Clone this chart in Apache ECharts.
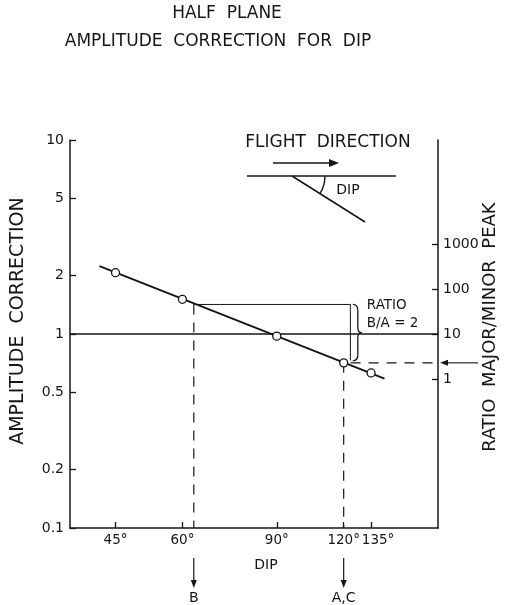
<!DOCTYPE html>
<html>
<head>
<meta charset="utf-8">
<script src="https://cdn.jsdelivr.net/npm/echarts@6/dist/echarts.min.js"></script>
<style>
  html, body { margin: 0; padding: 0; background: #ffffff; }
  #chart { width: 510px; height: 605px; }
</style>
</head>
<body>
<div id="chart"></div>
<script>
// Axis ticks
const dipTicks = [45, 60, 90, 120, 135];
const amplitudeTicks = [0.1, 0.2, 0.5, 1, 2, 5, 10];
const ratioTicks = [1, 10, 100, 1000];

// Measured amplitude corrections (open circles)
const pointDips = [45, 60, 90, 120, 135];
const pointAmps = [2.07, 1.51, 0.975, 0.71, 0.63];

// Ends of the fitted straight line (log-log)
const fitDips = [42, 143];
const fitAmps = [2.24, 0.588];

// Worked example: dips of B and A (=C), ratio B/A
const ratioBA = 2;
const dipA = 120;
const ampA = 0.71;
const dipB = 63;
const ampB = ratioBA * ampA;
const bracketDip = 124;

// Axis ranges
const dipRange = [37, 180];
const ampRange = [0.1, 10];
const ratioRange = [4.9e-4, 2.04e5];

const FONT = 'DejaVu Sans';
const INK = '#151515';

const chart = echarts.init(document.getElementById('chart'), null, { renderer: 'canvas' });

const zip = (a, b) => a.map((v, i) => [v, b[i]]);

const axisLineStyle = { color: INK, width: 1.5 };

chart.setOption({
  animation: false,
  backgroundColor: '#ffffff',
  title: [
    {
      text: 'HALF  PLANE',
      left: 227, top: 5, padding: 0, textAlign: 'center',
      textStyle: { fontFamily: FONT, fontSize: 17, fontWeight: 'normal', color: INK }
    },
    {
      text: 'AMPLITUDE  CORRECTION  FOR  DIP',
      left: 218, top: 33, padding: 0, textAlign: 'center',
      textStyle: { fontFamily: FONT, fontSize: 17, fontWeight: 'normal', color: INK }
    }
  ],
  grid: { left: 70, right: 72, top: 140, bottom: 77, containLabel: false },
  xAxis: {
    type: 'log',
    logBase: 10,
    min: dipRange[0],
    max: dipRange[1],
    axisLine: { show: true, lineStyle: axisLineStyle },
    axisTick: { show: true, inside: true, length: 6, customValues: dipTicks, lineStyle: { color: INK, width: 1.3 } },
    minorTick: { show: false },
    splitLine: { show: false },
    axisLabel: {
      customValues: dipTicks,
      interval: 0,
      hideOverlap: false,
      // the last label is nudged right so it clears its neighbour
      formatter: v => (v === dipTicks[dipTicks.length - 1] ? '{shift|' + v + '°}' : v + '°'),
      rich: { shift: { fontFamily: FONT, fontSize: 13.5, color: INK, padding: [0, 0, 0, 14] } },
      margin: 5,
      fontFamily: FONT, fontSize: 13.5, color: INK
    }
  },
  yAxis: [
    {
      type: 'log',
      logBase: 10,
      min: ampRange[0],
      max: ampRange[1],
      position: 'left',
      axisLine: { show: true, lineStyle: axisLineStyle },
      axisTick: { show: true, inside: true, length: 6, customValues: amplitudeTicks, lineStyle: { color: INK, width: 1.3 } },
      minorTick: { show: false },
      splitLine: { show: false },
      axisLabel: {
        customValues: amplitudeTicks,
        formatter: v => String(v),
        margin: 6,
        fontFamily: FONT, fontSize: 14, color: INK
      }
    },
    {
      type: 'log',
      logBase: 10,
      min: ratioRange[0],
      max: ratioRange[1],
      position: 'right',
      axisLine: { show: true, lineStyle: axisLineStyle },
      axisTick: { show: true, inside: true, length: 6, customValues: ratioTicks, lineStyle: { color: INK, width: 1.3 } },
      minorTick: { show: false },
      splitLine: { show: false },
      axisLabel: {
        customValues: ratioTicks,
        formatter: v => String(v),
        margin: 5,
        fontFamily: FONT, fontSize: 14, color: INK
      }
    }
  ],
  series: [
    {
      name: 'fit',
      type: 'line',
      data: zip(fitDips, fitAmps),
      symbol: 'none',
      lineStyle: { color: INK, width: 1.9 },
      z: 3,
      markLine: {
        silent: true,
        symbol: 'none',
        label: { show: false },
        lineStyle: { color: INK, width: 1.5, type: 'solid' },
        data: [{ yAxis: 1 }]
      }
    },
    {
      name: 'B level',
      type: 'line',
      data: [[dipB, ampB], [bracketDip - 0.5, ampB], [bracketDip - 0.5, ampA * 1.03]],
      symbol: 'none',
      lineStyle: { color: INK, width: 1 },
      z: 2
    },
    {
      name: 'B drop',
      type: 'line',
      data: [[dipB, ampB], [dipB, ampRange[0]]],
      symbol: 'none',
      lineStyle: { color: INK, width: 1.2, type: [10, 8] },
      z: 2
    },
    {
      name: 'A drop',
      type: 'line',
      data: [[dipA, ampA], [dipA, ampRange[0]]],
      symbol: 'none',
      lineStyle: { color: INK, width: 1.2, type: [10, 8] },
      z: 2
    },
    {
      name: 'A level',
      type: 'line',
      data: [[dipA * 1.03, ampA], [dipRange[1], ampA]],
      symbol: 'none',
      lineStyle: { color: INK, width: 1.2, type: [10, 8] },
      z: 2
    },
    {
      name: 'measured',
      type: 'scatter',
      data: zip(pointDips, pointAmps),
      symbol: 'circle',
      symbolSize: 8,
      itemStyle: { color: '#ffffff', borderColor: INK, borderWidth: 1.3, opacity: 1 },
      z: 5
    }
  ]
});

// Annotations placed from the axis scales
const px = (dip, amp) => chart.convertToPixel({ xAxisIndex: 0, yAxisIndex: 0 }, [dip, amp]);
const pB = px(bracketDip, ampB);
const pA = px(bracketDip, ampA);
const xB = px(dipB, ampB)[0];
const xA = px(dipA, ampA)[0];
const yA = px(dipA, ampA)[1];
const rightEdge = px(dipRange[1], ampA)[0];
const bx = pB[0] + 1.5;
const yTop = pB[1], yBot = pA[1] - 2, yMid = (yTop + yBot) / 2;

const textStyle = (text, size, align) => ({
  text: text, fontFamily: FONT, fontSize: size, fill: INK,
  align: align || 'center', verticalAlign: 'middle'
});
const stroke = (w) => ({ stroke: INK, lineWidth: w || 1.3, fill: null });
const seg = (x1, y1, x2, y2, w) => ({ type: 'line', shape: { x1, y1, x2, y2 }, style: stroke(w) });
const curve = (x1, y1, cpx1, cpy1, x2, y2) => ({ type: 'bezierCurve', shape: { x1, y1, x2, y2, cpx1, cpy1 }, style: stroke(1.3) });

const downArrow = (x) => [
  seg(x, 558, x, 581, 1.2),
  { type: 'polygon', shape: { points: [[x - 3, 580], [x + 3, 580], [x, 588]] }, style: { fill: INK } }
];

const bm = bx + 5;
chart.setOption({
  graphic: [
    // ratio bracket
    curve(bx, yTop, bm, yTop, bm, yTop + 6),
    seg(bm, yTop + 6, bm, yMid - 5),
    curve(bm, yMid - 5, bm, yMid, bm + 4, yMid),
    curve(bm + 4, yMid, bm, yMid, bm, yMid + 5),
    seg(bm, yMid + 5, bm, yBot - 6),
    curve(bm, yBot - 6, bm, yBot, bx, yBot),
    { type: 'text', x: bx + 14, y: yTop + 1, style: textStyle('RATIO', 13.5, 'left') },
    { type: 'text', x: bx + 14, y: yTop + 19, style: textStyle('B/A = ' + ratioBA, 13.5, 'left') },

    // arrow onto the ratio scale
    seg(rightEdge + 8, yA, rightEdge + 40, yA, 1.1),
    { type: 'polygon', shape: { points: [[rightEdge + 10, yA - 3], [rightEdge + 10, yA + 3], [rightEdge + 2, yA]] }, style: { fill: INK } },

    // arrows and letters under the dip axis
    ...downArrow(xB),
    ...downArrow(xA),
    { type: 'text', x: xB, y: 598, style: textStyle('B', 14) },
    { type: 'text', x: xA, y: 598, style: textStyle('A,C', 14) },

    // axis titles
    { type: 'text', x: 266, y: 565, style: textStyle('DIP', 14) },
    { type: 'text', x: 18, y: 321, rotation: Math.PI / 2, style: textStyle('AMPLITUDE  CORRECTION', 19) },
    { type: 'text', x: 490, y: 327, rotation: Math.PI / 2, style: textStyle('RATIO  MAJOR/MINOR  PEAK', 18) },

    // flight direction sketch
    { type: 'text', x: 328, y: 143, style: textStyle('FLIGHT  DIRECTION', 17) },
    seg(273, 163, 331, 163, 1.6),
    { type: 'polygon', shape: { points: [[329, 159], [339, 163], [329, 167]] }, style: { fill: INK } },
    seg(247, 176, 396, 176, 1.5),
    seg(292, 176, 365, 222, 1.5),
    { type: 'arc', shape: { cx: 292, cy: 176, r: 33, startAngle: 0, endAngle: 0.56, clockwise: true }, style: stroke(1.4) },
    { type: 'text', x: 348, y: 190, style: textStyle('DIP', 14) }
  ]
});
</script>
</body>
</html>
